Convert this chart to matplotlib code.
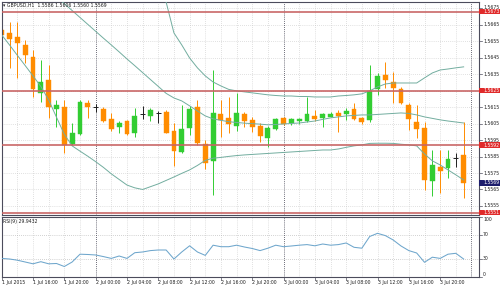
import matplotlib
matplotlib.use("Agg")
import matplotlib.pyplot as plt
from matplotlib.patches import Rectangle
import numpy as np

# ---------------- data (GBPUSD H1, 1 Jul 12:00 .. 3 Jul 23:00) ----------------
opens = [1.56619, 1.56599, 1.56575, 1.56528, 1.56454, 1.56235, 1.56316, 1.56138, 1.56150, 1.55925,
         1.55988, 1.56178, 1.56153, 1.56138, 1.56077, 1.56028, 1.56068, 1.55995, 1.56109, 1.56097,
         1.56113, 1.56121, 1.56006, 1.55876, 1.56022, 1.56150, 1.55925, 1.55825, 1.56109, 1.56083,
         1.56036, 1.56109, 1.56073, 1.56036, 1.55965, 1.56016, 1.56083, 1.56056, 1.56067, 1.56067,
         1.56097, 1.56087, 1.56093, 1.56113, 1.56107, 1.56138, 1.56083, 1.56073, 1.56259, 1.56346,
         1.56305, 1.56259, 1.56164, 1.56062, 1.56022, 1.55704, 1.55785, 1.55779, 1.55844, 1.5586]
highs = [1.56692, 1.56670, 1.56670, 1.56559, 1.56498, 1.56437, 1.56407, 1.56194, 1.56194, 1.56053,
         1.56194, 1.56194, 1.56170, 1.56153, 1.56113, 1.56067, 1.56073, 1.56144, 1.56158, 1.56144,
         1.56129, 1.56133, 1.56053, 1.56164, 1.56158, 1.56194, 1.55951, 1.56376, 1.56194, 1.56214,
         1.56237, 1.56123, 1.56093, 1.56053, 1.56036, 1.56085, 1.56093, 1.56085, 1.56085, 1.56214,
         1.56133, 1.56113, 1.56121, 1.56133, 1.56144, 1.56174, 1.56093, 1.56407, 1.56356, 1.56427,
         1.56366, 1.56275, 1.56174, 1.56164, 1.56062, 1.55890, 1.55890, 1.55890, 1.55874, 1.5606]
lows = [1.56498, 1.56387, 1.56326, 1.56419, 1.56214, 1.56184, 1.56083, 1.56032, 1.55870, 1.55918,
        1.55982, 1.56083, 1.56121, 1.56062, 1.56008, 1.55995, 1.55982, 1.55971, 1.56077, 1.56068,
        1.56053, 1.55991, 1.55793, 1.55872, 1.55982, 1.55921, 1.55775, 1.55617, 1.55971, 1.55994,
        1.56006, 1.56028, 1.56002, 1.55941, 1.55907, 1.56012, 1.56042, 1.56042, 1.56046, 1.56062,
        1.56068, 1.56032, 1.56089, 1.56002, 1.56073, 1.56073, 1.56048, 1.56062, 1.56225, 1.56267,
        1.56174, 1.56170, 1.56012, 1.55963, 1.55647, 1.55611, 1.55627, 1.55718, 1.55785, 1.5560]
closes = [1.56589, 1.56563, 1.56539, 1.56468, 1.56259, 1.56305, 1.56153, 1.56164, 1.55921, 1.55995,
          1.56184, 1.56153, 1.56153, 1.56068, 1.56016, 1.56056, 1.55988, 1.56097, 1.56109, 1.56133,
          1.56113, 1.55995, 1.55886, 1.56016, 1.56138, 1.55931, 1.55813, 1.56117, 1.56073, 1.56046,
          1.56113, 1.56068, 1.56028, 1.55977, 1.56022, 1.56077, 1.56046, 1.56077, 1.56077, 1.56107,
          1.56077, 1.56107, 1.56109, 1.56097, 1.56127, 1.56077, 1.56062, 1.56249, 1.56340, 1.56316,
          1.56265, 1.56178, 1.56077, 1.56016, 1.55708, 1.55799, 1.55765, 1.55836, 1.55844, 1.5569]

bb_upper = [1.57634, 1.57616, 1.57594, 1.57573, 1.57553, 1.57531, 1.57531, 1.57549, 1.57573, 1.57558,
            1.57506, 1.57454, 1.57403, 1.57354, 1.57312, 1.57260, 1.57209, 1.57144, 1.57069, 1.56969,
            1.56868, 1.56789, 1.56601, 1.56528, 1.56449, 1.56389, 1.56340, 1.56303, 1.56279, 1.56258,
            1.56249, 1.56243, 1.56237, 1.56231, 1.56225, 1.56221, 1.56218, 1.56218, 1.56215, 1.56215,
            1.56212, 1.56212, 1.56212, 1.56218, 1.56221, 1.56225, 1.56231, 1.56249, 1.56273, 1.56291,
            1.56297, 1.56297, 1.56297, 1.56297, 1.56328, 1.56358, 1.56376, 1.56382, 1.56389, 1.56395]
bb_middle = [1.57112, 1.57072, 1.57029, 1.56988, 1.56946, 1.56904, 1.56862, 1.56820, 1.56779, 1.56737,
             1.56695, 1.56653, 1.56611, 1.56569, 1.56528, 1.56486, 1.56443, 1.56402, 1.56360, 1.56318,
             1.56276, 1.56234, 1.56206, 1.56188, 1.56158, 1.56127, 1.56097, 1.56079, 1.56070, 1.56062,
             1.56057, 1.56053, 1.56050, 1.56047, 1.56043, 1.56045, 1.56048, 1.56051, 1.56054, 1.56060,
             1.56066, 1.56076, 1.56085, 1.56091, 1.56097, 1.56100, 1.56103, 1.56103, 1.56106, 1.56109,
             1.56112, 1.56115, 1.56112, 1.56103, 1.56091, 1.56082, 1.56073, 1.56066, 1.56060, 1.56054]
bb_lower = [1.56589, 1.56528, 1.56465, 1.56403, 1.56340, 1.56276, 1.56194, 1.56089, 1.55985, 1.55915,
            1.55883, 1.55852, 1.55819, 1.55784, 1.55745, 1.55711, 1.55677, 1.55660, 1.55650, 1.55667,
            1.55684, 1.55705, 1.55726, 1.55748, 1.55769, 1.55796, 1.55827, 1.55840, 1.55845, 1.55851,
            1.55856, 1.55860, 1.55863, 1.55866, 1.55869, 1.55872, 1.55875, 1.55878, 1.55881, 1.55884,
            1.55887, 1.55890, 1.55890, 1.55896, 1.55906, 1.55915, 1.55921, 1.55930, 1.55931, 1.55931,
            1.55930, 1.55925, 1.55921, 1.55915, 1.55866, 1.55824, 1.55799, 1.55769, 1.55739, 1.55708]

rsi = [31, 30, 28, 25, 22, 25.5, 22, 22.5, 17.5, 25,
       38, 37.5, 36.7, 34, 31, 35, 31, 40.5, 41.7, 44,
       45, 45, 30, 41.7, 52, 41.7, 36, 53, 50.5, 50.5,
       53, 50, 47.5, 44, 48, 53, 50.5, 51.7, 53, 54,
       52, 55, 53, 54, 56.7, 49.5, 48, 67.5, 72.8, 69,
       61.7, 51.7, 44, 40, 24.5, 33, 31, 38, 39.5, 29.9432]

time_label_bars = [0, 4, 8, 12, 16, 20, 24, 28, 32, 36, 40, 44, 48, 52, 56]
time_labels = ["1 Jul 2015", "1 Jul 16:00", "1 Jul 20:00", "2 Jul 00:00", "2 Jul 04:00",
               "2 Jul 08:00", "2 Jul 12:00", "2 Jul 16:00", "2 Jul 20:00", "3 Jul 00:00",
               "3 Jul 04:00", "3 Jul 08:00", "3 Jul 12:00", "3 Jul 16:00", "3 Jul 20:00"]
price_ticks = [1.5675, 1.5665, 1.5655, 1.5645, 1.5635, 1.5625, 1.5615, 1.5605,
               1.5595, 1.5585, 1.5575, 1.5565, 1.5555]
hlines = [1.5673, 1.5625, 1.5592, 1.5551]
bid = 1.5569
separators = [12, 36, 60]
rsi_levels = [30, 70]
rsi_ticks = [100, 70, 30, 0]
title = "\u25be GBPUSD,H1  1.5586 1.5606 1.5560 1.5569"
rsi_title = "RSI(9) 29.9432"

# ---------------- style ----------------
W, H = 500, 287
FS = 3.3
GREEN = "#32cd32"
ORANGE = "#ff8c00"
DOJI = "#202020"
BAND = "#72ad9f"
RSI_COL = "#6ea6cc"
HLINE = "#c86464"
GRID = "#c4c4c4"
SEP = "#3c3c4c"
SPINE = "#4c4c5c"
TXT = "#1e1e1e"
PX_PRICE = 0.00006075  # price per pixel in the main panel

fig = plt.figure(figsize=(W / 100, H / 100), dpi=100)
fig.patch.set_facecolor("white")


def rect(x0, y0, x1, y1):
    return [x0 / W, 1 - y1 / H, (x1 - x0) / W, (y1 - y0) / H]


ax = fig.add_axes(rect(2, 2, 479, 215))
ax2 = fig.add_axes(rect(2, 217, 479, 277))
n = len(opens)
xlim = (0.04, 60.96)

for a in (ax, ax2):
    a.set_xlim(*xlim)
    a.set_xticks([])
    a.set_yticks([])
    for s in a.spines.values():
        s.set_color(SPINE)
        s.set_linewidth(0.8)
    for gx in range(0, 61, 2):
        if gx in separators:
            continue
        a.axvline(gx, color=GRID, lw=0.5, ls=(0, (1, 2)), zorder=0)
    for sx in separators:
        a.axvline(sx, color=SEP, lw=0.6, ls=(0, (1, 1.5)), zorder=1)

ax.set_ylim(1.55495, 1.56789)
ax2.set_ylim(0, 100)

# horizontal grid
for p in price_ticks:
    ax.axhline(p, color=GRID, lw=0.5, ls=(0, (1, 2)), zorder=0)
for lv in rsi_levels:
    ax2.axhline(lv, color="#a8a8a8", lw=0.5, ls=(0, (1, 2)), zorder=0)

# candles
for i in range(n):
    o, h, l, c = opens[i], highs[i], lows[i], closes[i]
    if c > o:
        col = GREEN
    elif c < o:
        col = ORANGE
    else:
        col = DOJI
    ax.vlines(i, l, h, color=col, lw=0.7, zorder=2)
    if c != o:
        ax.bar(i, abs(c - o), bottom=min(o, c), width=0.62, color=col,
               edgecolor=col, lw=0.3, zorder=2)
    else:
        ax.hlines(o, i - 0.31, i + 0.31, color=col, lw=0.7, zorder=2)

# bollinger bands
xs = np.arange(n)
for band in (bb_upper, bb_middle, bb_lower):
    ax.plot(xs, band, color=BAND, lw=0.7, zorder=3)

# horizontal lines
for hl in hlines:
    ax.axhline(hl, color=HLINE, lw=1.3, zorder=4, alpha=0.9)

# right price labels
ytr = ax.get_yaxis_transform()
px_w = 1 / 477.0
for p in price_ticks:
    ax.plot([1, 1 + 3 * px_w], [p, p], transform=ytr, clip_on=False,
            color=SPINE, lw=0.5)
    if any(abs(p - hl) < 1e-7 for hl in hlines):
        continue
    ylab = p + (1.2 * PX_PRICE if p == price_ticks[0] else 0)
    ax.text(1 + 4 * px_w, ylab, f"{p:.4f}", transform=ytr, fontsize=FS,
            color=TXT, va="center", ha="left", clip_on=False)

dh = 2.6 * PX_PRICE
for p in hlines:
    ax.add_patch(Rectangle((1.0, p - dh), 21 * px_w, 2 * dh, transform=ytr,
                           clip_on=False, facecolor="#e02a2a", edgecolor="none", zorder=5))
    ax.text(1 + 4 * px_w, p, f"{p:.4f}", transform=ytr, fontsize=FS,
            color="white", va="center", ha="left", clip_on=False, zorder=6)
ax.add_patch(Rectangle((1.0, bid - dh), 21 * px_w, 2 * dh, transform=ytr,
                       clip_on=False, facecolor="#1c1c6c", edgecolor="none", zorder=5))
ax.text(1 + 4 * px_w, bid, f"{bid:.4f}", transform=ytr, fontsize=FS,
        color="white", va="center", ha="left", clip_on=False, zorder=6)

# title
ax.text(1.0 / 477, 1 - 1.2 / 213, title, transform=ax.transAxes, fontsize=FS,
        color=TXT, va="top", ha="left")

# RSI panel
ax2.plot(xs, rsi, color=RSI_COL, lw=0.75, zorder=3)
ax2.text(1.0 / 477, 1 - 1.5 / 60, rsi_title, transform=ax2.transAxes, fontsize=FS,
         color=TXT, va="top", ha="left")
ytr2 = ax2.get_yaxis_transform()
for t in rsi_ticks:
    va = "center"
    if t == 100:
        va = "top"
    elif t == 0:
        va = "bottom"
    ax2.plot([1, 1 + 3 * px_w], [t, t], transform=ytr2, clip_on=False,
             color=SPINE, lw=0.5)
    ax2.text(1 + 4 * px_w, t, str(t), transform=ytr2, fontsize=FS,
             color=TXT, va=va, ha="left", clip_on=False)

# time axis labels
xtr = ax2.get_xaxis_transform()
for b, lab in zip(time_label_bars, time_labels):
    ax2.plot([b, b], [0, -3 / 60], transform=xtr, clip_on=False, color=SPINE, lw=0.5)
    ax2.text(b, -5.2 / 60, lab, transform=xtr, fontsize=FS, color=TXT,
             va="center", ha="left", clip_on=False)

fig.savefig("out.png", dpi=100, facecolor="white")
